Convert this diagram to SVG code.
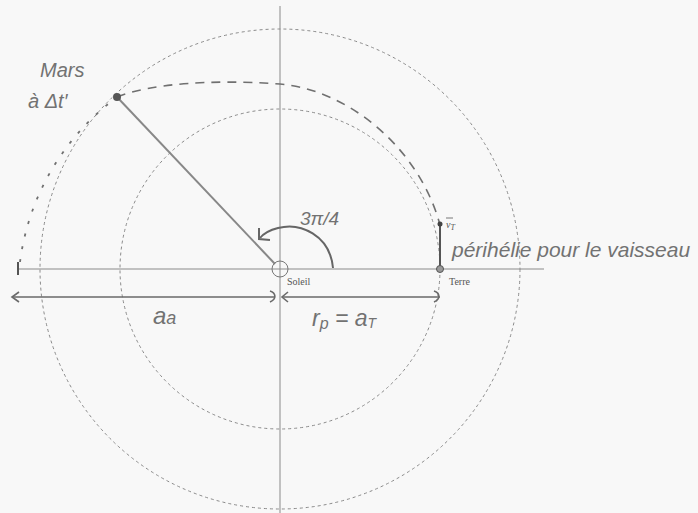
<svg xmlns="http://www.w3.org/2000/svg" width="698" height="513" viewBox="0 0 698 513">
<style>
.axis{stroke:#8a8a8a;stroke-width:1;fill:none}
.orbit{stroke:#8a8a8a;stroke-width:1;fill:none;stroke-dasharray:3 3}
.transfer{stroke:#707070;stroke-width:1.6;fill:none;stroke-dasharray:9 7}
.transferL{stroke:#707070;stroke-width:1.8;fill:none;stroke-dasharray:3 10}
.dim{stroke:#6a6a6a;stroke-width:1.6;fill:none}
.hand{font-family:"Liberation Sans",Arial,sans-serif;font-style:italic;fill:#727272}
.serif{font-family:"Liberation Serif",serif;fill:#555;font-size:10px}
</style>
<rect width="698" height="513" fill="#f8f8f8"/>
<g id="axes">
<line class="axis" x1="280" y1="6" x2="280" y2="513"/>
<line class="axis" x1="18" y1="269" x2="544" y2="269"/>
</g>
<g id="orbits">
<circle class="orbit" cx="280" cy="269" r="160"/>
<circle class="orbit" cx="280" cy="269" r="240"/>
</g>
<g id="connectors">
<path class="transfer" d="M117,97 C150,84 210,79 280,84 C350,90 420,150 440,225"/>
<path class="transferL" d="M20,262 C28,200 60,140 117,97"/>
<line x1="18" y1="262" x2="18" y2="275" stroke="#555" stroke-width="2"/>
<line x1="117" y1="97" x2="275" y2="264" stroke="#888" stroke-width="2"/>
<path d="M333,268 C330,235 300,222 278,228 C270,230 264,233 260,238" stroke="#666" stroke-width="2" fill="none"/>
<path d="M259,228 L259,239 L270,240" stroke="#666" stroke-width="2" fill="none"/>
<line x1="440" y1="225" x2="440" y2="268" stroke="#555" stroke-width="2"/>
<line class="dim" x1="12" y1="297" x2="275" y2="297"/>
<path class="dim" d="M19,292 L12,297 L19,302"/>
<path class="dim" d="M270,291 C276,293 277,299 270,302"/>
<line class="dim" x1="282" y1="297" x2="440" y2="297"/>
<path class="dim" d="M288,292 L282,297 L288,302"/>
<path class="dim" d="M434,291 C440,293 441,299 434,302"/>
</g>
<g id="soleil">
<circle cx="280" cy="269" r="8" fill="none" stroke="#777" stroke-width="1"/>
<text class="serif" x="287" y="285">Soleil</text>
</g>
<g id="terre">
<circle cx="440" cy="269" r="3.5" fill="#999" stroke="#555" stroke-width="1"/>
<circle cx="440" cy="224" r="2.5" fill="#444"/>
<text class="serif" x="446" y="228" font-size="12" font-style="italic">v<tspan font-size="8" dy="2">T</tspan></text>
<line x1="446" y1="218" x2="453" y2="218" stroke="#555" stroke-width="0.8"/>
<text class="serif" x="449" y="285">Terre</text>
</g>
<g id="mars">
<circle cx="117" cy="97" r="4" fill="#555"/>
<text class="hand" x="40" y="77" font-size="20">Mars</text>
<text class="hand" x="28" y="108" font-size="20">à Δt′</text>
</g>
<g id="labels">
<text class="hand" x="300" y="225" font-size="19">3π/4</text>
<text class="hand" x="153" y="324" font-size="24">a<tspan font-size="18">a</tspan></text>
<text class="hand" x="312" y="326" font-size="23">r<tspan font-size="16" dy="3">p</tspan><tspan dy="-3"> = a</tspan><tspan font-size="14" dy="2">T</tspan></text>
<text class="hand" x="452" y="257" font-size="21">périhélie pour le vaisseau</text>
</g>
</svg>
